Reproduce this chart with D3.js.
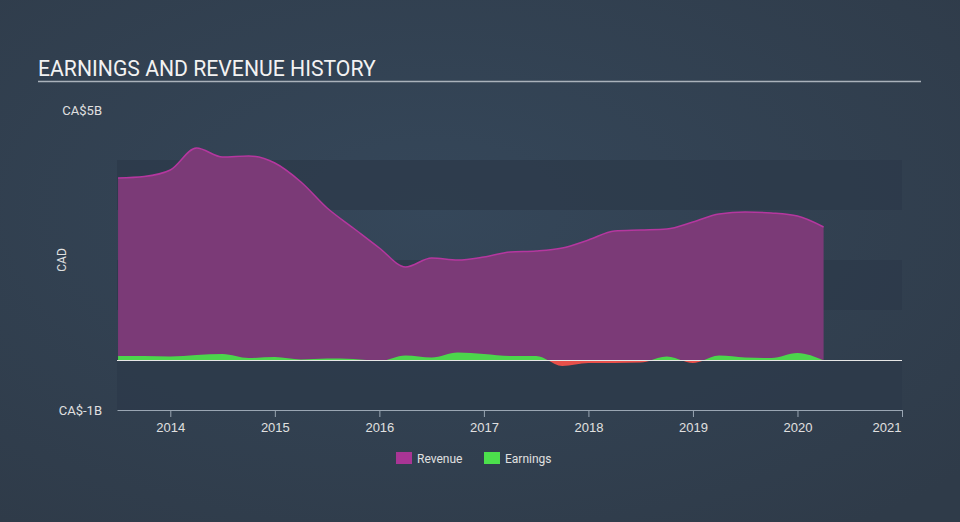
<!DOCTYPE html>
<html><head><meta charset="utf-8">
<script src="https://cdn.jsdelivr.net/npm/d3@7"></script>
<style>
html,body{margin:0;padding:0;background:#334355;}
svg{display:block;font-family:Roboto,"Open Sans",sans-serif;}
</style></head><body>
<svg id="c" width="960" height="522"></svg>
<script>
const dates = [2013.5,2013.75,2014.0,2014.25,2014.5,2014.75,2015.0,2015.25,2015.5,2015.75,2016.0,2016.25,2016.5,2016.75,2017.0,2017.25,2017.5,2017.75,2018.0,2018.25,2018.5,2018.75,2019.0,2019.25,2019.5,2019.75,2020.0,2020.25];
const revenue = [3.64,3.67,3.8,4.24,4.06,4.08,3.94,3.56,3.04,2.64,2.24,1.86,2.04,2.0,2.06,2.16,2.18,2.24,2.4,2.58,2.6,2.62,2.76,2.92,2.96,2.94,2.88,2.66];
const earnings = [0.09,0.09,0.08,0.11,0.13,0.05,0.07,0.02,0.04,0.03,-0.01,0.1,0.06,0.16,0.13,0.09,0.09,-0.11,-0.05,-0.05,-0.04,0.08,-0.05,0.1,0.06,0.05,0.15,0.0];
const yTickValues = [5,-1];
const yTickLabels = ["CA$5B","CA$-1B"];
const xTickValues = [2014,2015,2016,2017,2018,2019,2020,2021];
const title = "EARNINGS AND REVENUE HISTORY";

const svg = d3.select("#c");
const defs = svg.append("defs");
const bg = defs.append("radialGradient").attr("id","bg").attr("cx","45%").attr("cy","40%").attr("r","75%");
bg.append("stop").attr("offset","0%").attr("stop-color","#35475a");
bg.append("stop").attr("offset","100%").attr("stop-color","#2f3b49");
svg.append("rect").attr("width",960).attr("height",522).attr("fill","url(#bg)");

const L=117,R=902,T=110,B=410;
const x = d3.scaleLinear().domain([2013.49,2021]).range([L,R]);
const y = d3.scaleLinear().domain([-1,5]).range([B,T]);

// bands
const bands=[[4,3],[2,1],[0,-1]];
svg.append("g").selectAll("rect").data(bands).join("rect")
  .attr("x",L).attr("width",R-L).attr("y",d=>y(d[0])).attr("height",d=>y(d[1])-y(d[0]))
  .attr("fill","#2c3a4a").attr("opacity",0.75);

const data = dates.map((d,i)=>({d, r:revenue[i], e:earnings[i]}));
const curve = d3.curveMonotoneX;

svg.append("path").datum(data)
  .attr("d", d3.area().x(d=>x(d.d)).y0(y(0)).y1(d=>y(d.r)).curve(curve))
  .attr("fill","#7b3a77");
svg.append("path").datum(data)
  .attr("d", d3.line().x(d=>x(d.d)).y(d=>y(d.r)).curve(curve))
  .attr("fill","none").attr("stroke","#b5379f").attr("stroke-width",1.5);

defs.append("clipPath").attr("id","above").append("rect").attr("x",0).attr("y",0).attr("width",960).attr("height",y(0)+0.5);
defs.append("clipPath").attr("id","below").append("rect").attr("x",0).attr("y",y(0)+0.5).attr("width",960).attr("height",200);
const earnArea = d3.area().x(d=>x(d.d)).y0(y(0)+0.5).y1(d=>y(d.e)+0.5).curve(curve);
svg.append("path").datum(data).attr("d",earnArea).attr("fill","#4cd54c").attr("clip-path","url(#above)");
svg.append("path").datum(data).attr("d",earnArea).attr("fill","#e8504a").attr("clip-path","url(#below)");

// zero line
svg.append("line").attr("x1",L).attr("x2",R).attr("y1",y(0)+0.5).attr("y2",y(0)+0.5)
  .attr("stroke","#e6e6e6").attr("stroke-width",1);

// x axis
const xa = svg.append("g").attr("transform",`translate(0,${B})`)
  .call(d3.axisBottom(x).tickValues(xTickValues).tickFormat(d3.format("d")).tickSize(7).tickSizeOuter(0));
xa.select(".domain").attr("stroke","#9aa6b3");
xa.selectAll(".tick line").attr("stroke","#9aa6b3");
xa.selectAll(".tick text").attr("fill","#e0e0e0").attr("font-size",13).attr("dy","0.95em");
xa.selectAll(".tick").filter(d=>d===2021).select("text").attr("text-anchor","end").attr("dx","-1");

// y labels
svg.append("g").selectAll("text").data(yTickValues).join("text")
  .attr("x",102).attr("y",d=>y(d)+4.5).attr("text-anchor","end")
  .attr("fill","#e0e0e0").attr("font-size",13).text((d,i)=>yTickLabels[i]);
svg.append("text").attr("transform",`translate(66,${(T+B)/2}) rotate(-90)`)
  .attr("text-anchor","middle").attr("fill","#e0e0e0").attr("font-size",12).text("CAD");

// title
svg.append("text").attr("x",38).attr("y",75.5).attr("fill","#f2f2f2").attr("font-size",21.2).text(title);
svg.append("line").attr("x1",38).attr("x2",921).attr("y1",81.5).attr("y2",81.5).attr("stroke","#aab2bb").attr("stroke-width",1.5);

// legend
const leg=[{n:"Revenue",c:"#a93595",x:396},{n:"Earnings",c:"#4ce04c",x:484}];
const lg=svg.append("g").selectAll("g").data(leg).join("g").attr("transform",d=>`translate(${d.x},452)`);
lg.append("rect").attr("width",16).attr("height",12).attr("fill",d=>d.c);
lg.append("text").attr("x",21).attr("y",10.5).attr("fill","#e0e0e0").attr("font-size",12).text(d=>d.n);
</script>
</body></html>
